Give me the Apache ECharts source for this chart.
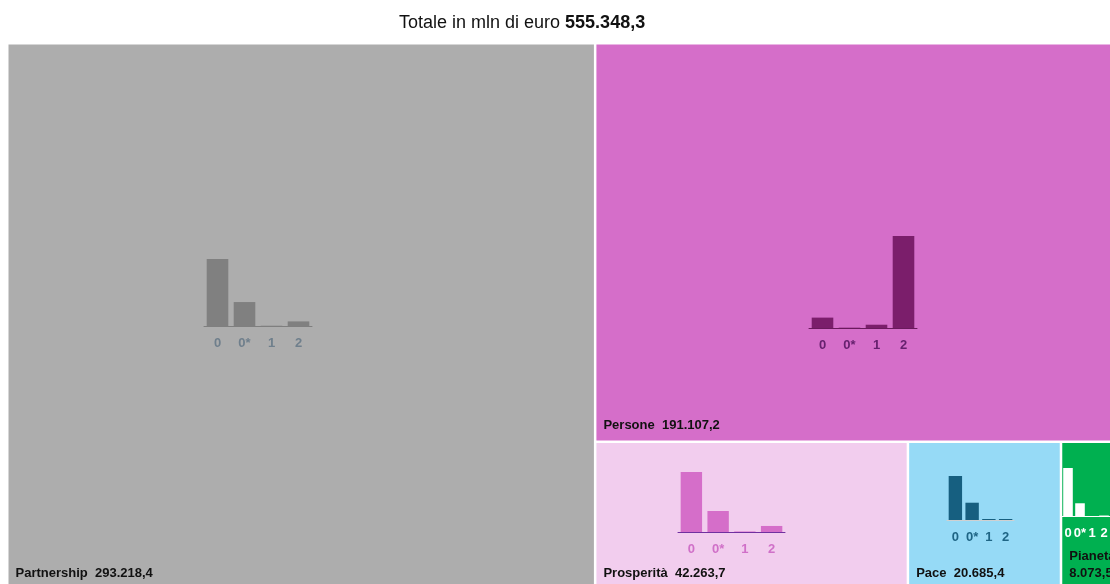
<!DOCTYPE html>
<html><head><meta charset="utf-8">
<script src="https://cdn.jsdelivr.net/npm/echarts@6/dist/echarts.min.js"></script>
<style>html,body{margin:0;padding:0;background:#fff}#c{width:1110px;height:584px}</style>
</head><body><div id="c"></div>
<script>
// ---- data ----
const sectors = ['Partnership', 'Persone', 'Prosperità', 'Pace', 'Pianeta'];
const sectorValues = [293218.4, 191107.2, 42263.7, 20685.4, 8073.5];
const totalValue = 555348.3;
const barCategories = ['0', '0*', '1', '2'];
// estimated share (%) of each sector's amount by category
const partnershipBars = [69.9, 25.0, 0.3, 4.8];
const personeBars = [9.8, 0.3, 3.1, 86.8];
const prosperitaBars = [68.6, 24.0, 0.6, 6.9];
const paceBars = [69.5, 27.3, 1.6, 1.6];
const pianetaBars = [78.4, 20.8, 0.0, 0.8];

// ---- styles / layout ----
const FONT = '"Liberation Sans", Arial, sans-serif';
const tileColors = ['#adadad', '#d56ec9', '#f2cdee', '#96daf6', '#00b050'];
const barSets = [partnershipBars, personeBars, prosperitaBars, paceBars, pianetaBars];
const barStyles = [
  {bar: '#808080', axis: '#7f7f7f', label: '#6f7f8c'},
  {bar: '#7b1e6b', axis: '#6a1a5c', label: '#66216e'},
  {bar: '#d56ec9', axis: '#7030a0', label: '#d070c8'},
  {bar: '#165f80', axis: '#d0d0d0', label: '#1f6585'},
  {bar: '#ffffff', axis: '#ffffff', label: '#ffffff'}
];
const grids = [
  {left: 204, top: 259, width: 108, height: 67},
  {left: 809, top: 236, width: 108, height: 92},
  {left: 678, top: 472, width: 107, height: 60},
  {left: 947, top: 476, width: 67, height: 44},
  {left: 1062, top: 468, width: 60, height: 48}
];
const narrowTiles = ['Pianeta'];

function fmtIt(v) {
  const parts = v.toFixed(1).split('.');
  return parts[0].replace(/\B(?=(\d{3})+(?!\d))/g, '.') + ',' + parts[1];
}

const chart = echarts.init(document.getElementById('c'), null, {renderer: 'canvas'});

const option = {
  animation: false,
  backgroundColor: '#ffffff',
  title: {
    text: '{a|Totale in mln di euro }{b|' + fmtIt(totalValue) + '}',
    left: 394, top: 9,
    textStyle: {
      fontWeight: 'normal',
      rich: {
        a: {fontSize: 18, color: '#111', fontWeight: 'normal', fontFamily: FONT},
        b: {fontSize: 18, color: '#111', fontWeight: 'bold', fontFamily: FONT}
      }
    }
  },
  grid: grids.map(g => Object.assign({containLabel: false, z: 5}, g)),
  xAxis: grids.map((g, i) => ({
    type: 'category', gridIndex: i, data: barCategories, z: 6,
    axisLine: {show: true, lineStyle: {color: barStyles[i].axis, width: 1}},
    axisTick: {show: false},
    axisLabel: {interval: 0, margin: 11, fontSize: 13, fontWeight: 'bold', fontFamily: FONT, color: barStyles[i].label}
  })),
  yAxis: grids.map((g, i) => ({
    type: 'value', gridIndex: i, min: 0, max: 'dataMax', show: false
  })),
  series: [
    {
      type: 'treemap', z: 0, zlevel: 0,
      left: 8.5, top: 44.5, width: 1111, height: 544,
      roam: false, nodeClick: false,
      breadcrumb: {show: false},
      emphasis: {disabled: true},
      label: {
        show: true, position: 'insideBottomLeft', distance: 2,
        fontSize: 13, fontWeight: 'bold', color: '#111', fontFamily: FONT,
        overflow: 'none', lineHeight: 17,
        formatter: p => p.name + (narrowTiles.indexOf(p.name) >= 0 ? '\n' : '  ') + fmtIt(p.value)
      },
      itemStyle: {gapWidth: 2.5, borderWidth: 0},
      levels: [{itemStyle: {gapWidth: 2.5, borderWidth: 0}}],
      data: sectors.map((n, i) => ({name: n, value: sectorValues[i], itemStyle: {color: tileColors[i]}}))
    }
  ].concat(barSets.map((vals, i) => ({
    type: 'bar', xAxisIndex: i, yAxisIndex: i, z: 5,
    data: vals, barCategoryGap: '20%',
    itemStyle: {color: barStyles[i].bar},
    silent: true
  })))
};
chart.setOption(option);
</script>
</body></html>
